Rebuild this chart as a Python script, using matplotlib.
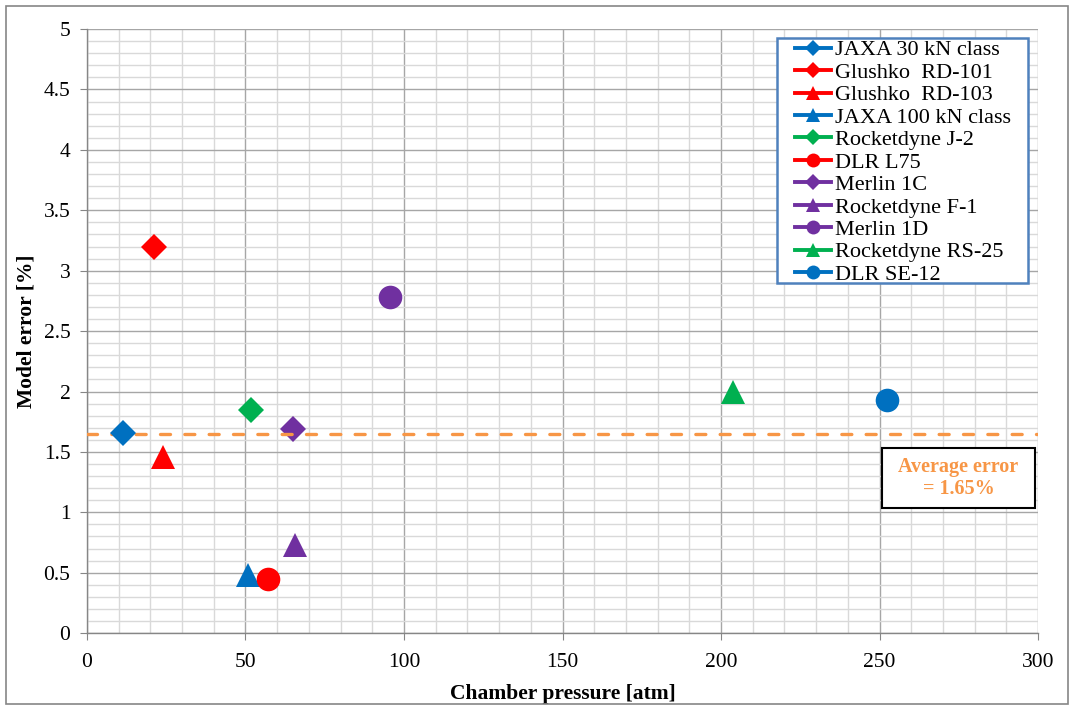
import matplotlib
matplotlib.use("Agg")
import matplotlib.pyplot as plt
from matplotlib.lines import Line2D
from matplotlib.patches import Rectangle
from matplotlib.ticker import MultipleLocator

plt.rcParams['font.family'] = ['Liberation Serif', 'DejaVu Serif']

names = ["JAXA 30 kN class", "Glushko  RD-101", "Glushko  RD-103", "JAXA 100 kN class",
         "Rocketdyne J-2", "DLR L75", "Merlin 1C", "Rocketdyne F-1", "Merlin 1D",
         "Rocketdyne RS-25", "DLR SE-12"]
pressure = [11.4, 21.1, 24.0, 50.8, 51.7, 57.1, 65.0, 65.6, 95.6, 203.8, 252.4]
model_error = [1.66, 3.20, 1.46, 0.48, 1.85, 0.45, 1.69, 0.73, 2.78, 2.00, 1.93]
colors = ["#0070C0", "#FF0000", "#FF0000", "#0070C0", "#00B050", "#FF0000",
          "#7030A0", "#7030A0", "#7030A0", "#00B050", "#0070C0"]
markers = ["D", "D", "^", "^", "D", "o", "D", "^", "o", "^", "o"]
average_error = 1.65

fig = plt.figure(figsize=(10.74, 7.09), dpi=100)
ax = fig.add_axes([0.081, 0.107, 0.8855, 0.852])

msize = {"D": 13.5, "^": 17, "o": 17}
for i, (x, y, c, m) in enumerate(zip(pressure, model_error, colors, markers)):
    ax.plot([x], [y], linestyle='none', marker=m, markersize=msize[m],
            color=c, markeredgewidth=0, zorder=(5 if i == 0 else 4))

ax.axhline(average_error, color="#F79646", linewidth=2.4, dashes=(3.0, 4.3),
           dash_capstyle='round', zorder=4.5)

ax.set_xlim(0, 300)
ax.set_ylim(0, 5)
ax.xaxis.set_major_locator(MultipleLocator(50))
ax.xaxis.set_minor_locator(MultipleLocator(10))
ax.yaxis.set_major_locator(MultipleLocator(0.5))
ax.yaxis.set_minor_locator(MultipleLocator(0.1))
ax.set_yticks([0, 0.5, 1, 1.5, 2, 2.5, 3, 3.5, 4, 4.5, 5])
ax.set_yticklabels(["0", "0.5", "1", "1.5", "2", "2.5", "3", "3.5", "4", "4.5", "5"])
ax.grid(which='major', color="#A6A6A6", linewidth=1.0, zorder=0)
ax.grid(which='minor', color="#D9D9D9", linewidth=1.0, zorder=0)
ax.set_axisbelow(True)
for s in ['top', 'right']:
    ax.spines[s].set_visible(False)
for s in ['left', 'bottom']:
    ax.spines[s].set_color("#868686")
    ax.spines[s].set_linewidth(1.0)
ax.tick_params(which='major', length=5, color="#868686", labelsize=15.5)
ax.tick_params(axis='x', which='major', pad=9)
ax.tick_params(axis='y', which='major', pad=7)
ax.tick_params(which='minor', length=0)

ax.set_xlabel("Chamber pressure [atm]", fontsize=15.5, fontweight='bold', labelpad=9)
ax.set_ylabel("Model error [%]", fontsize=15.5, fontweight='bold', labelpad=5)

handles = [Line2D([0], [0], color=c, marker=m, linewidth=2.8,
                  markersize=(10 if m != "D" else 8), markeredgewidth=0)
           for c, m in zip(colors, markers)]
leg = ax.legend(handles, names, loc='upper left', bbox_to_anchor=(0.7445, 0.982),
                fontsize=16, frameon=False, handlelength=1.62,
                handletextpad=0.2, labelspacing=0.085, borderpad=0, borderaxespad=0)
ax.add_patch(Rectangle((0.7256, 0.5795), 0.2639, 0.4055, transform=ax.transAxes,
                       facecolor='white', edgecolor="#4F81BD", linewidth=1.8,
                       zorder=5))
leg.set_zorder(6)

ax.add_patch(Rectangle((0.836, 0.207), 0.1608, 0.099, transform=ax.transAxes,
                       facecolor='white', edgecolor='black', linewidth=1.5, zorder=6))
ax.text(0.9164, 0.2566, "Average error\n= 1.65%", transform=ax.transAxes,
        ha='center', va='center', fontsize=14.5, fontweight='bold', color="#F79646",
        linespacing=1.15, zorder=7)

fig.patches.append(Rectangle((6 / 1074, 5 / 709), 1062 / 1074, 698 / 709,
                             transform=fig.transFigure, fill=False,
                             edgecolor="#868686", linewidth=1.2))

fig.savefig("out.png", dpi=100)
